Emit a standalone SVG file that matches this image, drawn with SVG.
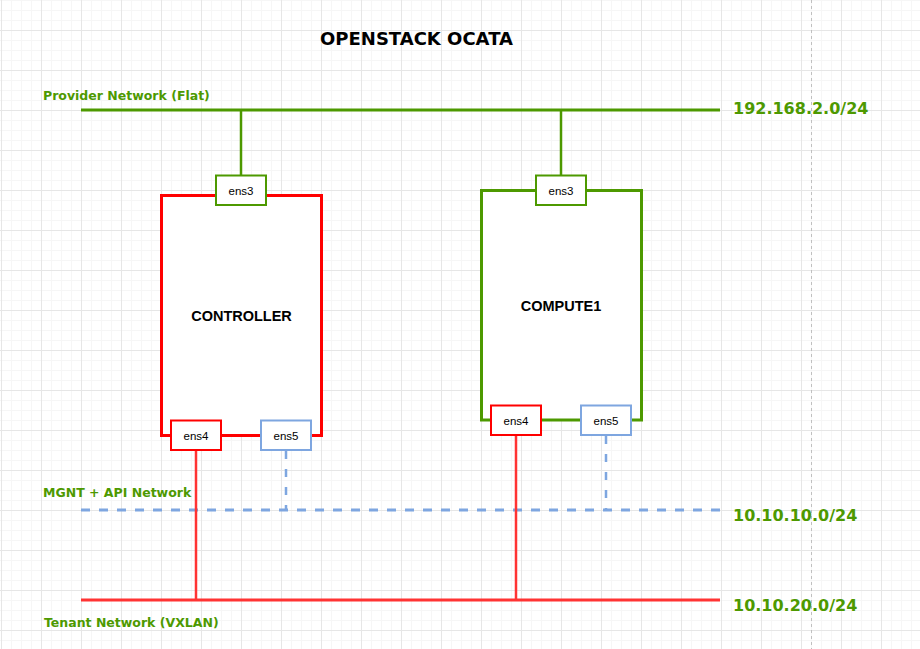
<svg xmlns="http://www.w3.org/2000/svg" width="920" height="649" viewBox="0 0 920 649">
<defs>
<pattern id="grid" x="1" y="-10" width="40" height="40" patternUnits="userSpaceOnUse">
<path d="M10.5 0V40M20.5 0V40M30.5 0V40M0 10.5H40M0 20.5H40M0 30.5H40" stroke="#f6f6f6" stroke-width="1" fill="none"/>
<path d="M0.5 0V40M0 0.5H40" stroke="#e6e6e6" stroke-width="1" fill="none"/>
</pattern>
<style>
.lbl{font-family:"DejaVu Sans",sans-serif;font-weight:bold;fill:#4D9900}
.ip{font-family:"DejaVu Sans",sans-serif;font-weight:bold;fill:#4D9900;font-size:16px}
.title{font-family:"DejaVu Sans",sans-serif;font-weight:bold;font-size:18px;fill:#000}
.name{font-family:"Liberation Sans",Arial,sans-serif;font-weight:bold;font-size:14.5px;fill:#000;text-anchor:middle}
.port{font-family:"Liberation Sans",Arial,sans-serif;font-size:11.5px;fill:#000;text-anchor:middle}
.g{stroke:#4D9900;fill:#fff;stroke-width:2}
.r{stroke:#FF0000;fill:#fff;stroke-width:2}
.b{stroke:#7EA6E0;fill:#fff;stroke-width:2}
</style>
</defs>
<rect width="920" height="649" fill="#fff"/>
<rect width="920" height="649" fill="url(#grid)"/>
<line x1="811.5" y1="0" x2="811.5" y2="649" stroke="#c0c0c0" stroke-width="1" stroke-dasharray="3 3"/>

<text class="title" x="416.5" y="44.5" text-anchor="middle">OPENSTACK OCATA</text>

<g id="connectors" fill="none">
<line x1="81" y1="110" x2="720" y2="110" stroke="#4D9900" stroke-width="3"/>
<line x1="241" y1="110" x2="241" y2="176" stroke="#4D9900" stroke-width="2.5"/>
<line x1="561" y1="110" x2="561" y2="176" stroke="#4D9900" stroke-width="2.5"/>
<line x1="81" y1="510" x2="720" y2="510" stroke="#7EA6E0" stroke-width="3" stroke-dasharray="9 9"/>
<line x1="286" y1="451" x2="286" y2="510" stroke="#7EA6E0" stroke-width="2.5" stroke-dasharray="8 10"/>
<line x1="606" y1="436" x2="606" y2="510" stroke="#7EA6E0" stroke-width="2.5" stroke-dasharray="8 10"/>
<line x1="81" y1="600" x2="720" y2="600" stroke="#FF3333" stroke-width="3"/>
<line x1="196" y1="450" x2="196" y2="600" stroke="#FF3333" stroke-width="2.5"/>
<line x1="516" y1="435" x2="516" y2="600" stroke="#FF3333" stroke-width="2.5"/>
</g>

<g id="provider-network">
<text class="lbl" x="43" y="99.5" font-size="12.5">Provider Network (Flat)</text>
<text class="ip" x="733" y="114">192.168.2.0/24</text>
</g>
<g id="mgnt-network">
<text class="lbl" x="43" y="496.5" font-size="12.5">MGNT + API Network</text>
<text class="ip" x="733" y="521">10.10.10.0/24</text>
</g>
<g id="tenant-network">
<text class="lbl" x="44" y="626.5" font-size="12.5">Tenant Network (VXLAN)</text>
<text class="ip" x="733" y="611">10.10.20.0/24</text>
</g>

<g id="controller">
<rect x="161.5" y="195.5" width="160" height="240" fill="#fff" stroke="#FF0000" stroke-width="3"/>
<text class="name" x="241.5" y="321">CONTROLLER</text>
</g>
<g id="controller-ens3">
<rect class="g" x="216" y="175.5" width="50" height="29.5"/>
<text class="port" x="241" y="194.5">ens3</text>
</g>
<g id="controller-ens4">
<rect class="r" x="171" y="420.5" width="50" height="29.5"/>
<text class="port" x="196" y="439.5">ens4</text>
</g>
<g id="controller-ens5">
<rect class="b" x="261" y="420.5" width="50" height="29.5"/>
<text class="port" x="286" y="439.5">ens5</text>
</g>

<g id="compute1">
<rect x="481.5" y="190.5" width="160" height="229.5" fill="#fff" stroke="#4D9900" stroke-width="3"/>
<text class="name" x="561" y="311">COMPUTE1</text>
</g>
<g id="compute1-ens3">
<rect class="g" x="536" y="175.5" width="50" height="29.5"/>
<text class="port" x="561" y="194.5">ens3</text>
</g>
<g id="compute1-ens4">
<rect class="r" x="491" y="405.5" width="50" height="29.5"/>
<text class="port" x="516" y="424.5">ens4</text>
</g>
<g id="compute1-ens5">
<rect class="b" x="581" y="405.5" width="50" height="29.5"/>
<text class="port" x="606" y="424.5">ens5</text>
</g>
</svg>
